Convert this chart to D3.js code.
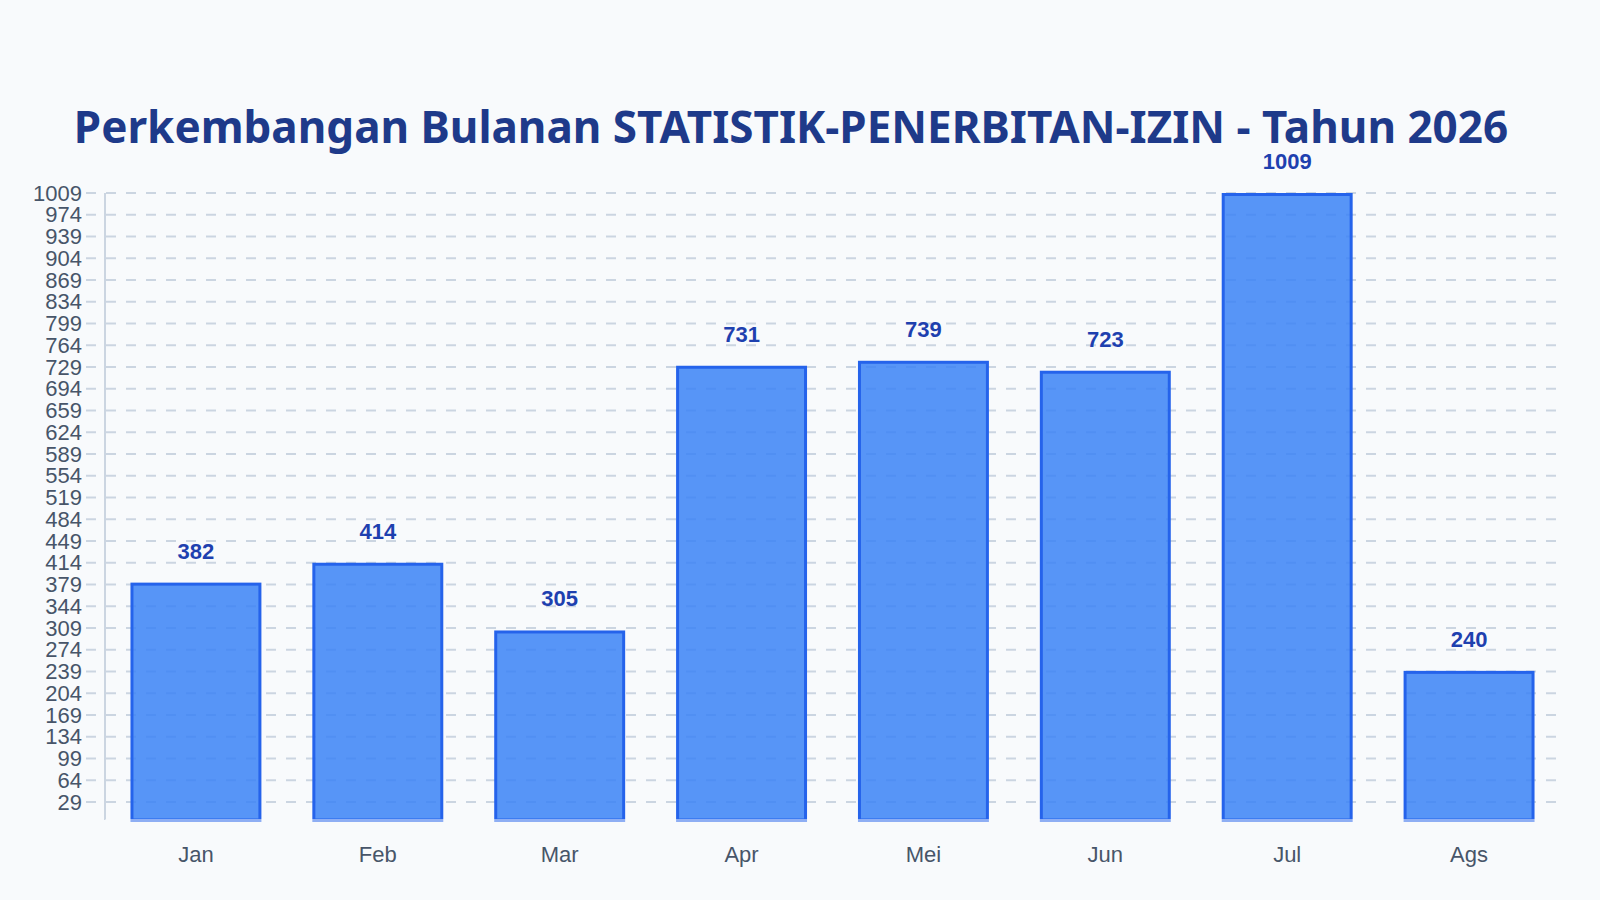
<!DOCTYPE html>
<html>
<head>
<meta charset="utf-8">
<script src="https://cdn.jsdelivr.net/npm/d3@7/dist/d3.min.js"></script>
<style>
  html, body { margin: 0; padding: 0; background: #f8fafc; }
  svg { display: block; }
</style>
</head>
<body>
<svg id="chart" width="1600" height="900"></svg>
<script>
const titleText = "Perkembangan Bulanan STATISTIK-PENERBITAN-IZIN - Tahun 2026";
const months = ["Jan", "Feb", "Mar", "Apr", "Mei", "Jun", "Jul", "Ags"];
const values = [382, 414, 305, 731, 739, 723, 1009, 240];
const yTicks = [29, 64, 99, 134, 169, 204, 239, 274, 309, 344, 379, 414, 449, 484, 519, 554, 589, 624, 659, 694, 729, 764, 799, 834, 869, 904, 939, 974, 1009];

(function () {
const svg = d3.select("#chart");
const W = 1600, H = 900;
const mLeft = 105, mRight = 1560, gridRight = 1556, mTop = 193, mBottom = 820;

svg.append("rect").attr("width", W).attr("height", H).attr("fill", "#f8fafc");

const x = d3.scaleBand().domain(months).range([mLeft, mRight]).paddingInner(0.28).paddingOuter(0.14);
const y = d3.scaleLinear().domain([0, 1009]).range([mBottom, mTop]);

// grid lines
svg.append("g").selectAll("line").data(yTicks).join("line")
  .attr("x1", 86).attr("x2", gridRight)
  .attr("y1", d => y(d)).attr("y2", d => y(d))
  .attr("stroke", "#cbd5e1").attr("stroke-width", 2)
  .attr("stroke-dasharray", "10,10");

// y tick labels
svg.append("g").selectAll("text").data(yTicks).join("text")
  .attr("x", 82).attr("y", d => y(d))
  .attr("dy", "0.35em")
  .attr("text-anchor", "end")
  .attr("font-family", "Liberation Sans, Arial, sans-serif")
  .attr("font-size", 22)
  .attr("fill", "#475569")
  .text(d => d);

// y axis line
svg.append("line").attr("x1", mLeft).attr("x2", mLeft).attr("y1", mTop).attr("y2", mBottom)
  .attr("stroke", "#cbd5e1").attr("stroke-width", 2);

// bars
svg.append("g").selectAll("rect").data(values).join("rect")
  .attr("x", (d, i) => x(months[i]) + 1.5)
  .attr("width", x.bandwidth() - 3)
  .attr("y", d => y(d) + 1.5)
  .attr("height", d => mBottom - y(d) - 1.5)
  .attr("fill", "#3b82f6").attr("fill-opacity", 0.85)
  .attr("stroke", "#2563eb").attr("stroke-width", 3);

// bottom light line over bars
svg.append("line").attr("x1", mLeft).attr("x2", gridRight).attr("y1", mBottom).attr("y2", mBottom)
  .attr("stroke", "#f8fafc").attr("stroke-width", 1);

// value labels
svg.append("g").selectAll("text").data(values).join("text")
  .attr("x", (d, i) => x(months[i]) + x.bandwidth() / 2)
  .attr("y", d => y(d) - 24)
  .attr("text-anchor", "middle")
  .attr("font-family", "Liberation Sans, Arial, sans-serif")
  .attr("font-weight", "bold")
  .attr("font-size", 22)
  .attr("fill", "#1e40af")
  .text(d => d);

// x labels
svg.append("g").selectAll("text").data(months).join("text")
  .attr("x", d => x(d) + x.bandwidth() / 2)
  .attr("y", 862)
  .attr("text-anchor", "middle")
  .attr("font-family", "Liberation Sans, Arial, sans-serif")
  .attr("font-size", 22)
  .attr("fill", "#475569")
  .text(d => d);

// title
svg.append("text")
  .attr("x", 791).attr("y", 143)
  .attr("text-anchor", "middle")
  .attr("font-family", "Noto Sans, Open Sans, sans-serif")
  .attr("font-weight", "bold")
  .attr("font-size", 44)
  .attr("fill", "#1e3a8a")
  .text(titleText);
})();
</script>
</body>
</html>
